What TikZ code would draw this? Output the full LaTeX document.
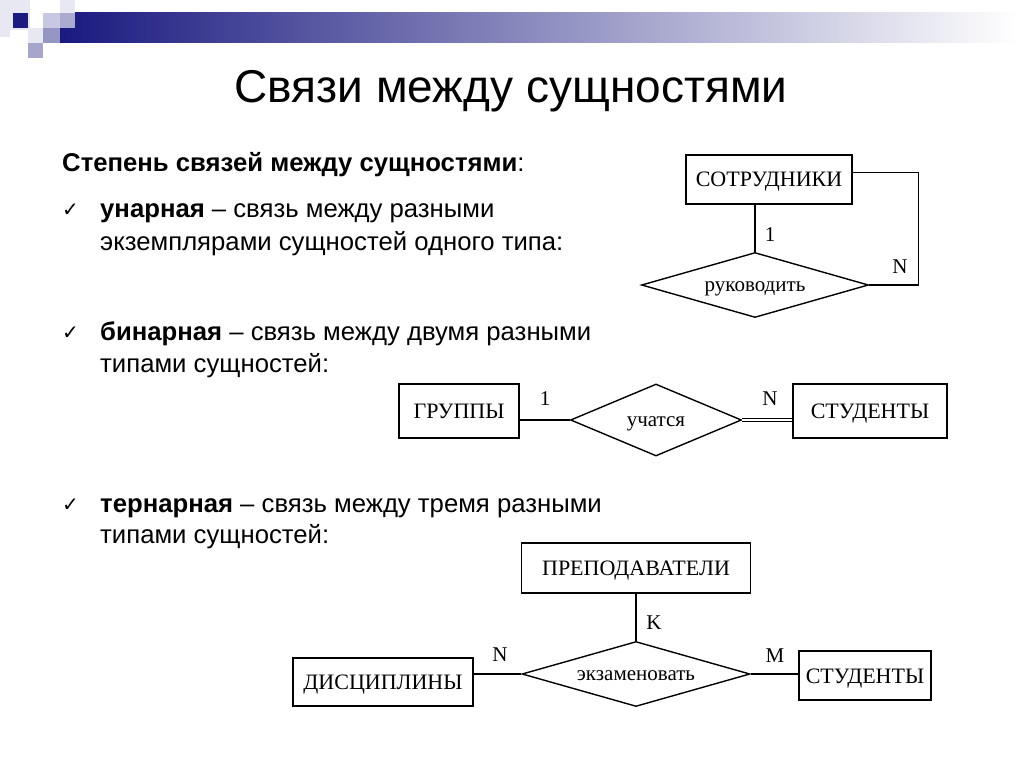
\documentclass[tikz,border=0pt]{standalone}
\usepackage{fontspec}
\setmainfont{Liberation Sans}
\newfontfamily\erfont{Liberation Serif}
\newfontfamily\symfont{DejaVu Sans}
\usetikzlibrary{shapes.geometric}

\definecolor{navy}{RGB}{26,26,128}
\definecolor{barmid}{RGB}{170,170,200}
\definecolor{sqpale}{RGB}{232,232,242}
\definecolor{sqlight}{RGB}{200,200,226}
\definecolor{sqmid}{RGB}{150,150,196}

\begin{document}
\begin{tikzpicture}[x=1pt,y=-1pt,
  entity/.style={draw, line width=1.4pt, inner sep=0pt, text height=15pt, text depth=0pt,
    font=\erfont\fontsize{22}{26}\selectfont},
  relation/.style={draw, diamond, line width=1.4pt, inner sep=0pt, text height=13pt, text depth=0pt,
    font=\erfont\fontsize{21}{25}\selectfont},
  card/.style={font=\erfont\fontsize{21}{25}\selectfont},
  link/.style={line width=1.4pt},
  body/.style={anchor=base west, inner sep=0pt, font=\fontsize{25.7}{32}\selectfont},
  tick/.style={anchor=base west, inner sep=0pt, font=\symfont\fontsize{20}{22}\selectfont}]
  \useasboundingbox (0,0) rectangle (1024,767);
  \fill[white] (0,0) rectangle (1024,767);

  % Header
  \fill[left color=navy, middle color=barmid, right color=white] (60,13) rectangle (1018,43);
  \fill[sqpale] (0,0) rectangle (10,37);
  \fill[sqpale] (10,0) rectangle (30,30);
  \fill[navy] (13,13) rectangle (28,28);
  \fill[sqlight] (43,13) rectangle (60,28);
  \fill[sqpale] (60,0) rectangle (75,13);
  \fill[sqmid!80] (60,13) rectangle (75,28);
  \fill[sqpale] (28,28) rectangle (43,43);
  \fill[sqmid] (43,28) rectangle (60,43);
  \fill[sqmid!85] (28,43) rectangle (43,58);

  % Title
  \node[anchor=base, font=\fontsize{46}{50}\selectfont] (title) at (511,103) {Связи между сущностями};

  % Text
  \node[body] (degree) at (62,172) {\textbf{Степень связей между сущностями}:};
  \node[tick] (tick1) at (62,217) {✓};
  \node[body] (un1) at (100,218) {\textbf{унарная} – связь между разными};
  \node[body] (un2) at (100,250) {экземплярами сущностей одного типа:};
  \node[tick] (tick2) at (62,339) {✓};
  \node[body] (bin1) at (100,340) {\textbf{бинарная} – связь между двумя разными};
  \node[body] (bin2) at (100,372) {типами сущностей:};
  \node[tick] (tick3) at (62,511) {✓};
  \node[body] (ter1) at (100,512) {\textbf{тернарная} – связь между тремя разными};
  \node[body] (ter2) at (100,543) {типами сущностей:};

  % Unary
  \node[entity, minimum width=166, minimum height=49] (sotr) at (769,179.5) {СОТРУДНИКИ};
  \node[relation, aspect=3.49, minimum width=227, minimum height=65] (ruk) at (755,285) {руководить};
  \draw[link] (ruk.north) -- (ruk.north |- sotr.south);
  \draw[link] ([yshift=7pt]sotr.east) -| ([xshift=49pt]ruk.east) -- (ruk.east);
  \node[card] (c1) at (770,235) {1};
  \node[card] (c2) at (900,267) {N};

  % Binary
  \node[entity, minimum width=120, minimum height=54] (grp) at (459,411) {ГРУППЫ};
  \node[relation, aspect=2.375, minimum width=171, minimum height=72] (uch) at (656,420) {учатся};
  \node[entity, minimum width=154, minimum height=54] (stud) at (870,411) {СТУДЕНТЫ};
  \draw[link] (uch.west -| grp.east) -- (uch.west);
  \draw[link, double, double distance=2pt] (uch.east) -- (uch.east -| stud.west);
  \node[card] (c3) at (545,399) {1};
  \node[card] (c4) at (770,399) {N};

  % Ternary
  \node[entity, minimum width=229, minimum height=50] (prep) at (636,568) {ПРЕПОДАВАТЕЛИ};
  \node[relation, aspect=3.5, minimum width=228, minimum height=65] (exam) at (636,674) {экзаменовать};
  \node[entity, minimum width=180, minimum height=48] (disc) at (383,682) {ДИСЦИПЛИНЫ};
  \node[entity, minimum width=132, minimum height=49] (stud2) at (865,675.5) {СТУДЕНТЫ};
  \draw[link] (prep.south) -- (exam.north);
  \draw[link] (exam.west -| disc.east) -- (exam.west);
  \draw[link] (exam.east) -- (exam.east -| stud2.west);
  \node[card] (c5) at (654,623) {K};
  \node[card] (c6) at (500,655) {N};
  \node[card] (c7) at (775,656) {M};
\end{tikzpicture}
\end{document}
